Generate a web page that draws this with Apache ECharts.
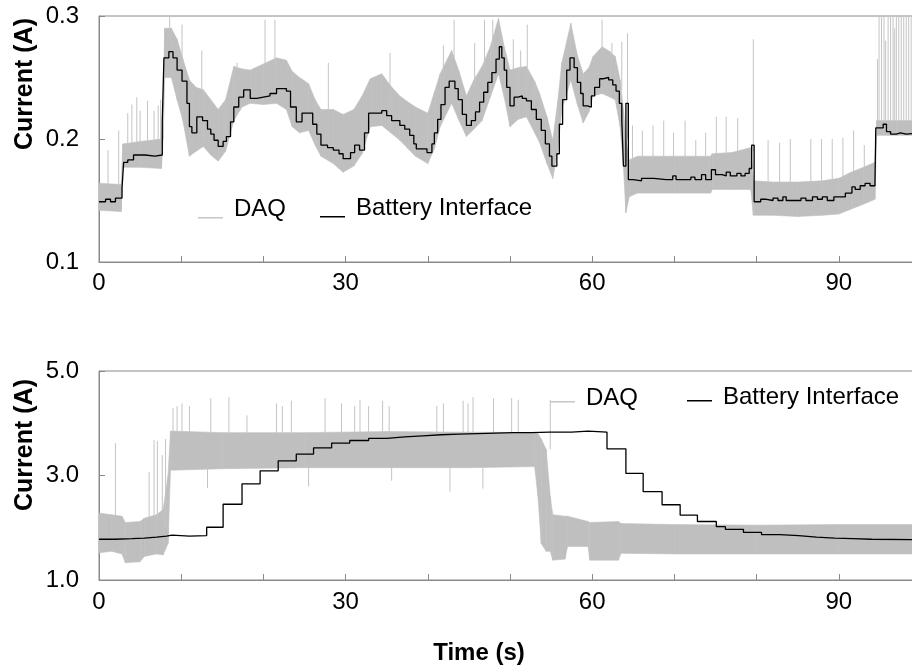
<!DOCTYPE html>
<html><head><meta charset="utf-8">
<script src="https://cdn.jsdelivr.net/npm/echarts@6/dist/echarts.min.js"></script>
<style>html,body{margin:0;padding:0;background:#fff}#c{width:912px;height:668px}</style>
</head><body><div id="c"></div>
<script>
// ---- data ----
const xTickLabels = [0, 30, 60, 90];
const topYTicks = [0.1, 0.2, 0.3];
const botYTicks = [1.0, 3.0, 5.0];
const seriesNames = ['DAQ', 'Battery Interface'];

// Battery Interface, top panel: [time s, current A] (held until next time)
const topBattery = [
 [0,0.149],[0.8,0.151],[1.4,0.149],[2.0,0.152],[2.8,0.160],[3.0,0.181],[3.5,0.183],[4.2,0.187],[5.6,0.186],[6.8,0.187],
 [7.7,0.215],[7.9,0.266],[8.5,0.271],[9.0,0.266],[9.5,0.256],[10.1,0.247],[10.7,0.229],[11.0,0.210],[11.3,0.205],[11.9,0.218],
 [12.6,0.215],[13.2,0.208],[13.6,0.204],[14.0,0.199],[14.5,0.194],[15.1,0.198],[15.5,0.202],[16.0,0.214],[16.4,0.226],[17.0,0.234],
 [17.6,0.240],[18.4,0.233],[19.2,0.234],[20.0,0.235],[20.8,0.237],[21.6,0.241],[22.8,0.239],[23.3,0.226],[24.0,0.214],[24.7,0.221],
 [25.6,0.221],[26.0,0.212],[26.5,0.204],[27.0,0.195],[27.8,0.193],[28.5,0.191],[29.2,0.188],[29.7,0.184],[30.6,0.189],[31.1,0.195],
 [31.7,0.191],[32.3,0.205],[32.8,0.221],[34.4,0.223],[35.0,0.219],[35.6,0.215],[36.6,0.211],[37.2,0.208],[37.8,0.203],[38.3,0.196],
 [38.6,0.192],[39.9,0.189],[40.5,0.196],[40.8,0.205],[41.2,0.216],[41.6,0.228],[42.1,0.242],[42.6,0.247],[43.3,0.241],[43.7,0.232],
 [44.2,0.220],[44.7,0.211],[45.3,0.215],[45.8,0.222],[46.3,0.230],[46.8,0.238],[47.3,0.246],[47.8,0.254],[48.3,0.265],[48.7,0.275],
 [49.0,0.266],[49.3,0.256],[49.6,0.242],[50.0,0.227],[50.5,0.234],[51.0,0.235],[51.5,0.233],[52.0,0.231],[52.6,0.224],[53.2,0.216],
 [53.8,0.207],[54.3,0.196],[54.8,0.186],[55.1,0.178],[55.7,0.188],[56.0,0.212],[56.4,0.232],[56.9,0.256],[57.3,0.266],[57.8,0.258],
 [58.2,0.246],[58.6,0.237],[58.9,0.227],[59.4,0.226],[59.9,0.235],[60.3,0.242],[60.9,0.249],[61.4,0.250],[62.0,0.248],[62.5,0.244],
 [62.9,0.239],[63.3,0.229],[63.6,0.215],[63.8,0.178],[64.1,0.229],[64.4,0.167],[65.0,0.166],[66.0,0.168],[67.5,0.167],[69.0,0.167],
 [69.8,0.170],[70.2,0.167],[71.5,0.167],[72.0,0.169],[72.5,0.167],[73.3,0.171],[73.8,0.167],[74.5,0.175],[75.0,0.171],[75.8,0.170],
 [76.3,0.173],[76.8,0.170],[77.6,0.172],[78.1,0.170],[78.6,0.172],[79.1,0.176],[79.4,0.195],[79.7,0.149],[80.5,0.151],[81.2,0.150],
 [82.0,0.152],[82.6,0.150],[83.2,0.153],[83.6,0.150],[84.5,0.150],[85.4,0.152],[86.0,0.150],[86.8,0.153],[87.4,0.151],[88.0,0.153],
 [88.6,0.150],[89.4,0.153],[90.0,0.153],[90.8,0.156],[91.6,0.161],[92.0,0.159],[92.6,0.162],[93.2,0.164],[93.8,0.162],[94.4,0.164],
 [94.5,0.209],[95.0,0.209],[95.4,0.212],[95.8,0.206],[96.3,0.204],[97.0,0.205],[97.5,0.204],[98.2,0.205],[100,0.205]
];
// DAQ envelope, top panel: [time, lower, upper]
const topDaqBand = [
 [0,0.142,0.164],[2.7,0.141,0.163],[2.9,0.177,0.196],[5.0,0.177,0.198],[7.6,0.176,0.200],[7.8,0.200,0.230],[8.0,0.250,0.290],
 [8.8,0.250,0.290],[9.5,0.232,0.281],[10.2,0.215,0.265],[11.0,0.186,0.248],[11.8,0.190,0.242],[12.7,0.194,0.240],[13.6,0.187,0.232],
 [14.5,0.182,0.224],[15.4,0.190,0.232],[16.4,0.215,0.259],[17.4,0.226,0.257],[18.4,0.229,0.256],[20.0,0.228,0.261],[21.6,0.229,0.266],
 [22.8,0.224,0.264],[23.5,0.210,0.255],[24.4,0.205,0.250],[25.5,0.207,0.245],[26.3,0.195,0.232],[27.0,0.186,0.224],[28.5,0.180,0.224],
 [29.7,0.173,0.220],[31.0,0.178,0.224],[32.0,0.188,0.235],[33.0,0.210,0.249],[34.4,0.211,0.253],[35.5,0.205,0.243],[36.6,0.199,0.235],
 [37.6,0.192,0.230],[38.5,0.186,0.226],[40.0,0.180,0.221],[40.8,0.192,0.238],[41.5,0.210,0.253],[42.9,0.229,0.272],[43.8,0.215,0.255],
 [44.7,0.202,0.235],[45.6,0.208,0.248],[46.6,0.215,0.259],[47.6,0.234,0.275],[48.6,0.253,0.298],[49.3,0.234,0.275],[50.0,0.210,0.256],
 [51.0,0.216,0.258],[52.0,0.218,0.259],[53.0,0.205,0.247],[53.6,0.197,0.237],[54.5,0.180,0.218],[55.2,0.168,0.199],[55.8,0.190,0.230],
 [56.3,0.224,0.262],[57.4,0.248,0.294],[58.2,0.228,0.268],[58.9,0.213,0.253],[59.6,0.222,0.258],[60.1,0.235,0.267],[61.2,0.237,0.275],
 [62.2,0.234,0.271],[62.8,0.232,0.267],[63.4,0.210,0.248],[63.8,0.178,0.224],[64.1,0.140,0.200],[64.5,0.153,0.183],[65.5,0.156,0.186],
 [70.0,0.156,0.186],[74.4,0.156,0.186],[74.6,0.159,0.188],[77.0,0.159,0.189],[79.3,0.159,0.193],[79.6,0.138,0.166],[82.0,0.138,0.165],
 [85.0,0.137,0.165],[88.0,0.138,0.166],[90.0,0.139,0.168],[91.5,0.143,0.173],[93.0,0.147,0.177],[94.4,0.151,0.181],[94.6,0.203,0.215],
 [97.0,0.203,0.215],[100,0.203,0.215]
];
// DAQ spikes, top panel: [time, from, to]
const topDaqSpikes = [
 [1.1,0.162,0.191],[2.4,0.162,0.207],[3.5,0.195,0.221],[4.0,0.196,0.228],[4.6,0.197,0.234],[5.0,0.197,0.223],[5.9,0.198,0.231],
 [6.7,0.198,0.223],[7.2,0.199,0.227],[7.5,0.199,0.232],[8.6,0.28,0.300],[10.1,0.26,0.293],[12.5,0.24,0.272],[16.8,0.255,0.262],
 [20.2,0.26,0.297],[21.4,0.26,0.297],[27.9,0.224,0.262],[35.4,0.243,0.270],[41.9,0.245,0.276],[43.2,0.265,0.297],[45.7,0.24,0.278],
 [46.9,0.255,0.297],[47.9,0.27,0.297],[50.4,0.256,0.281],[51.3,0.257,0.272],[52.1,0.258,0.293],[61.2,0.27,0.297],[62.4,0.27,0.278],
 [63.6,0.24,0.279],[64.3,0.2,0.286],[64.9,0.183,0.211],[66.1,0.186,0.207],[67.4,0.186,0.211],[68.7,0.186,0.215],[69.9,0.186,0.205],
 [71.3,0.186,0.215],[72.6,0.186,0.199],[73.8,0.186,0.205],[75.1,0.188,0.218],[76.3,0.188,0.218],[77.7,0.189,0.217],[79.6,0.19,0.281],
 [81.4,0.165,0.199],[82.8,0.165,0.197],[84.1,0.165,0.200],[86.6,0.165,0.200],[87.9,0.166,0.200],[89.2,0.166,0.200],[90.5,0.168,0.201],
 [91.8,0.173,0.207],[93.1,0.177,0.195],[94.7,0.215,0.265],[94.9,0.215,0.305],[95.2,0.215,0.305],[95.5,0.215,0.305],[95.7,0.215,0.28],
 [96.0,0.215,0.305],[96.3,0.215,0.305],[96.6,0.215,0.305],[96.8,0.215,0.29],[97.0,0.215,0.305],[97.3,0.215,0.305],[97.6,0.215,0.305],
 [97.9,0.215,0.305],[98.2,0.215,0.305],[98.5,0.215,0.305],[98.8,0.215,0.305]
];

// Battery Interface, bottom panel
const botBattery = [
 [0,1.78],[2.0,1.79],[4.0,1.80],[5.5,1.82],[7.0,1.84],[8.2,1.86],[8.9,1.84],[11.0,1.85],[13.1,2.01],[15.1,2.45],[17.4,2.84],
 [19.6,3.09],[21.8,3.28],[24.0,3.41],[26.1,3.53],[28.3,3.62],[30.5,3.67],[32.8,3.71],[35.0,3.74],[37.2,3.76],[39.4,3.78],[41.6,3.79],
 [43.8,3.80],[46.0,3.81],[48.2,3.82],[50.4,3.82],[52.6,3.83],[54.8,3.83],[57.5,3.85],[59.5,3.83],[61.8,3.51],[64.1,3.04],[66.2,2.69],
 [68.5,2.44],[70.7,2.24],[72.8,2.12],[75.1,2.02],[76.2,1.97],[78.4,1.91],[80.6,1.87],[82.8,1.85],[85.1,1.82],[87.3,1.80],[89.5,1.79],
 [91.7,1.78],[94.0,1.77],[100,1.77]
];
// DAQ envelope, bottom panel: [time, lower, upper]
const botDaqBand = [
 [0,1.52,2.28],[1.5,1.55,2.25],[2.8,1.50,2.22],[3.2,1.33,2.10],[5.0,1.35,2.12],[5.5,1.45,2.18],[7.0,1.50,2.25],[7.8,1.48,2.35],
 [8.4,1.70,3.00],[8.7,3.10,3.85],[15,3.13,3.82],[25,3.15,3.82],[35,3.15,3.84],[45,3.15,3.83],[53.0,3.17,3.82],[53.4,2.60,3.80],
 [53.8,1.70,3.70],[54.4,1.55,3.50],[54.9,1.55,2.60],[55.2,1.38,2.25],[56.7,1.40,2.22],[57.0,1.64,2.22],[59.5,1.64,2.12],
 [59.7,1.38,2.10],[63.2,1.38,2.12],[63.5,1.51,2.08],[70,1.50,2.06],[80,1.50,2.05],[90,1.50,2.06],[100,1.50,2.06]
];
// DAQ spikes, bottom panel: [time, from, to]
const botDaqSpikes = [
 [2.0,2.2,3.62],[6.1,2.2,3.07],[6.7,2.2,3.68],[7.1,2.2,3.66],[7.7,2.2,3.39],[8.1,2.0,3.70],[9.0,3.8,4.29],[9.5,3.8,4.33],
 [10.1,3.8,4.38],[11.0,3.8,4.33],[13.6,3.8,4.48],[15.8,3.8,4.50],[18.0,3.8,4.15],[21.6,3.8,4.38],[22.3,3.8,4.33],[23.4,3.8,4.43],
 [27.5,3.8,4.48],[29.5,3.8,4.38],[31.1,3.8,4.33],[31.75,3.8,4.45],[32.8,3.8,4.33],[34.5,3.8,4.43],[35.3,3.8,4.33],[41.1,3.8,4.33],
 [41.9,3.8,4.38],[44.3,3.8,4.43],[44.9,3.8,4.38],[45.5,3.8,4.50],[48.0,3.8,4.48],[50.2,3.8,4.48],[51.0,3.8,4.45],[54.9,3.5,4.45],
 [13.2,3.15,2.76],[25.5,3.15,2.79],[35.6,3.15,2.90],[42.7,3.15,2.69],[46.7,3.15,2.75]
];

// ---- chart ----
const GRAY = '#bfbfbf';
const AXIS = '#8a8a8a';
const FONT = '"Liberation Sans", Arial, sans-serif';

function xAxisDef(gi, margin) {
  return {
    type: 'value', gridIndex: gi, min: 0, max: 100, interval: 10,
    axisLine: { show: true, lineStyle: { color: AXIS, width: 1 } },
    axisTick: { show: true, inside: true, length: 6, lineStyle: { color: AXIS } },
    axisLabel: { color: '#000', fontSize: 24, fontFamily: FONT, margin: margin,
      formatter: v => xTickLabels.indexOf(v) >= 0 ? String(v) : '' },
    splitLine: { show: false }
  };
}
function yAxisDef(gi, ticks) {
  return {
    type: 'value', gridIndex: gi, min: ticks[0], max: ticks[ticks.length - 1],
    interval: ticks[1] - ticks[0],
    axisLine: { show: true, lineStyle: { color: AXIS, width: 1 } },
    axisTick: { show: true, inside: true, length: 6, lineStyle: { color: AXIS } },
    axisLabel: { color: '#000', fontSize: 24, fontFamily: FONT, margin: 20,
      formatter: v => v.toFixed(1) },
    splitLine: { show: false }
  };
}
// band drawn as quads between consecutive envelope rows
function bandSeries(band, gi) {
  const segs = band.slice(1).map((r, i) => [band[i][0], band[i][1], band[i][2], r[0], r[1], r[2]]);
  return {
    type: 'custom', name: seriesNames[0], xAxisIndex: gi, yAxisIndex: gi,
    data: segs, encode: { x: [0, 3], y: [1, 2, 4, 5] }, clip: true, silent: true, z: 1,
    itemStyle: { color: GRAY },
    renderItem: (params, api) => {
      const p1 = api.coord([api.value(0), api.value(1)]);
      const p2 = api.coord([api.value(3), api.value(4)]);
      const p3 = api.coord([api.value(3), api.value(5)]);
      const p4 = api.coord([api.value(0), api.value(2)]);
      return { type: 'polygon', shape: { points: [p1, p2, p3, p4] },
        style: { fill: GRAY, stroke: GRAY, lineWidth: 0.6 } };
    }
  };
}
function spikeSeries(spikes, gi) {
  return {
    type: 'custom', name: seriesNames[0], xAxisIndex: gi, yAxisIndex: gi,
    data: spikes, encode: { x: 0, y: [1, 2] }, clip: true, silent: true, z: 2,
    itemStyle: { color: GRAY },
    renderItem: (params, api) => {
      const a = api.coord([api.value(0), api.value(1)]);
      const b = api.coord([api.value(0), api.value(2)]);
      return { type: 'line', shape: { x1: a[0], y1: a[1], x2: b[0], y2: b[1] },
        style: { stroke: '#c4c4c4', lineWidth: 1 } };
    }
  };
}
function batterySeries(data, gi) {
  return { type: 'line', name: seriesNames[1], xAxisIndex: gi, yAxisIndex: gi,
    data: data, step: 'end', symbol: 'none', silent: true,
    lineStyle: { color: '#000', width: 1.3 }, itemStyle: { color: '#000' }, z: 3 };
}
// legend icon: a short line placed near the bottom of the icon box (baseline-aligned like the reference)
function legendDef(name, color, left, top, boxH) {
  const y0 = boxH - 1.5;
  const icon = 'path://M0,0L0.01,0ZM0,' + y0 + 'L25,' + y0 + 'L25,' + boxH + 'L0,' + boxH + 'Z';
  return { data: [{ name: name, icon: icon }], left: left, top: top, padding: 0,
    itemWidth: 25, itemHeight: boxH, selectedMode: false, symbolKeepAspect: false,
    itemStyle: { color: color, borderWidth: 0 },
    textStyle: { fontSize: 24, fontFamily: FONT, color: '#000', padding: [0, 0, 0, 6] } };
}

const chart = echarts.init(document.getElementById('c'), null, { renderer: 'canvas' });
chart.setOption({
  animation: false,
  backgroundColor: '#fff',
  grid: [
    { left: 99, top: 16, width: 822, height: 246, outerBoundsMode: 'none', containLabel: false,
      show: true, borderColor: AXIS, borderWidth: 1, backgroundColor: 'transparent' },
    { left: 99, top: 371, width: 822, height: 209, outerBoundsMode: 'none', containLabel: false,
      show: true, borderColor: AXIS, borderWidth: 1, backgroundColor: 'transparent' }
  ],
  xAxis: [xAxisDef(0, 9), xAxisDef(1, 10)],
  yAxis: [yAxisDef(0, topYTicks), yAxisDef(1, botYTicks)],
  legend: [
    legendDef(seriesNames[0], '#c6c6c6', 198, 197.5, 18),
    legendDef(seriesNames[1], '#000', 320, 196.5, 18),
    legendDef(seriesNames[0], '#c6c6c6', 550, 386.5, 8),
    legendDef(seriesNames[1], '#000', 687, 385.5, 8)
  ],
  graphic: [
    { type: 'text', x: 25, y: 84, rotation: Math.PI / 2,
      style: { text: 'Current (A)', font: 'bold 25px ' + FONT, fill: '#000', align: 'center', verticalAlign: 'middle', textAlign: 'center', textVerticalAlign: 'middle' } },
    { type: 'text', x: 25, y: 445, rotation: Math.PI / 2,
      style: { text: 'Current (A)', font: 'bold 25px ' + FONT, fill: '#000', align: 'center', verticalAlign: 'middle', textAlign: 'center', textVerticalAlign: 'middle' } },
    { type: 'text', x: 479, y: 653,
      style: { text: 'Time (s)', font: 'bold 24px ' + FONT, fill: '#000', align: 'center', verticalAlign: 'middle', textAlign: 'center', textVerticalAlign: 'middle' } }
  ],
  series: [
    bandSeries(topDaqBand, 0), spikeSeries(topDaqSpikes, 0), batterySeries(topBattery, 0),
    bandSeries(botDaqBand, 1), spikeSeries(botDaqSpikes, 1), batterySeries(botBattery, 1)
  ]
});
</script></body></html>
